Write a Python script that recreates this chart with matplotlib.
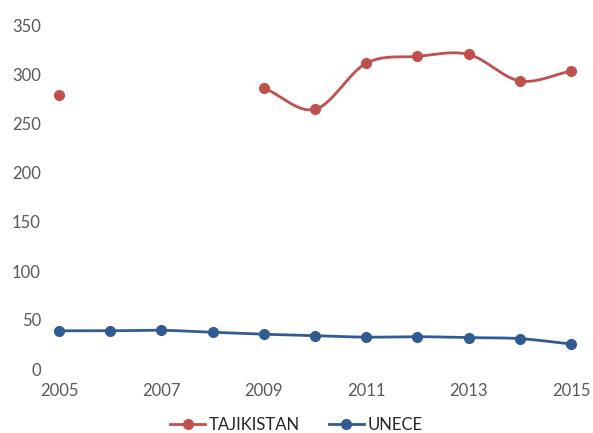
import numpy as np
import matplotlib
matplotlib.use('Agg')
import matplotlib.pyplot as plt
from matplotlib.lines import Line2D

plt.rcParams['font.family'] = ['Lato', 'DejaVu Sans']

years = [2005, 2006, 2007, 2008, 2009, 2010, 2011, 2012, 2013, 2014, 2015]
tajikistan = [280, None, None, None, 287, 265, 312, 319, 321, 294, 304]
unece = [39, 39, 39.5, 37.5, 35.5, 34, 32.5, 33, 32, 31, 25.5]

red = '#C0504D'
blue = '#325B94'


def smooth(xs, ys, n=30):
    # catmull-rom through the points, like excel's smoothed line
    xs = np.asarray(xs, float)
    ys = np.asarray(ys, float)
    if len(xs) < 2:
        return xs, ys
    px = np.concatenate([[2 * xs[0] - xs[1]], xs, [2 * xs[-1] - xs[-2]]])
    py = np.concatenate([[2 * ys[0] - ys[1]], ys, [2 * ys[-1] - ys[-2]]])
    ox, oy = [], []
    t = np.linspace(0, 1, n)
    for i in range(1, len(px) - 2):
        for p, o in ((px, ox), (py, oy)):
            p0, p1, p2, p3 = p[i - 1], p[i], p[i + 1], p[i + 2]
            o.extend(0.5 * ((2 * p1) + (-p0 + p2) * t
                            + (2 * p0 - 5 * p1 + 4 * p2 - p3) * t ** 2
                            + (-p0 + 3 * p1 - 3 * p2 + p3) * t ** 3))
    return np.array(ox), np.array(oy)


def segments(xs, ys):
    seg = []
    for x, y in zip(xs, ys):
        if y is None:
            if seg:
                yield seg
            seg = []
        else:
            seg.append((x, y))
    if seg:
        yield seg


fig = plt.figure(figsize=(5.93, 4.33), dpi=100)
ax = fig.add_axes([59 / 593, 1 - 369 / 433, 512 / 593, 343 / 433])

for vals, col in ((tajikistan, red), (unece, blue)):
    for seg in segments(years, vals):
        sx, sy = zip(*seg)
        lx, ly = smooth(sx, sy)
        ax.plot(lx, ly, color=col, lw=2.0, clip_on=False, solid_capstyle='round')
        ax.plot(sx, sy, 'o', color=col, ms=7, clip_on=False)

ax.set_xlim(2005, 2015)
ax.set_ylim(0, 350)
ax.set_xticks(range(2005, 2016, 2))
ax.set_yticks(range(0, 351, 50))
for s in ax.spines.values():
    s.set_visible(False)
ax.tick_params(length=0, labelsize=12, colors='#595959')
ax.tick_params(axis='y', pad=13)
ax.tick_params(axis='x', pad=10)

handles = [Line2D([], [], color=red, lw=2.0, marker='o', ms=7),
           Line2D([], [], color=blue, lw=2.0, marker='o', ms=7)]
fig.legend(handles, ['TAJIKISTAN', 'UNECE'], loc='lower center',
           bbox_to_anchor=(0.5, -0.035), ncol=2, frameon=False, fontsize=12,
           handlelength=2.1, columnspacing=1.7, handletextpad=0.25,
           labelcolor='#262626')

fig.savefig('out.png', dpi=100)
